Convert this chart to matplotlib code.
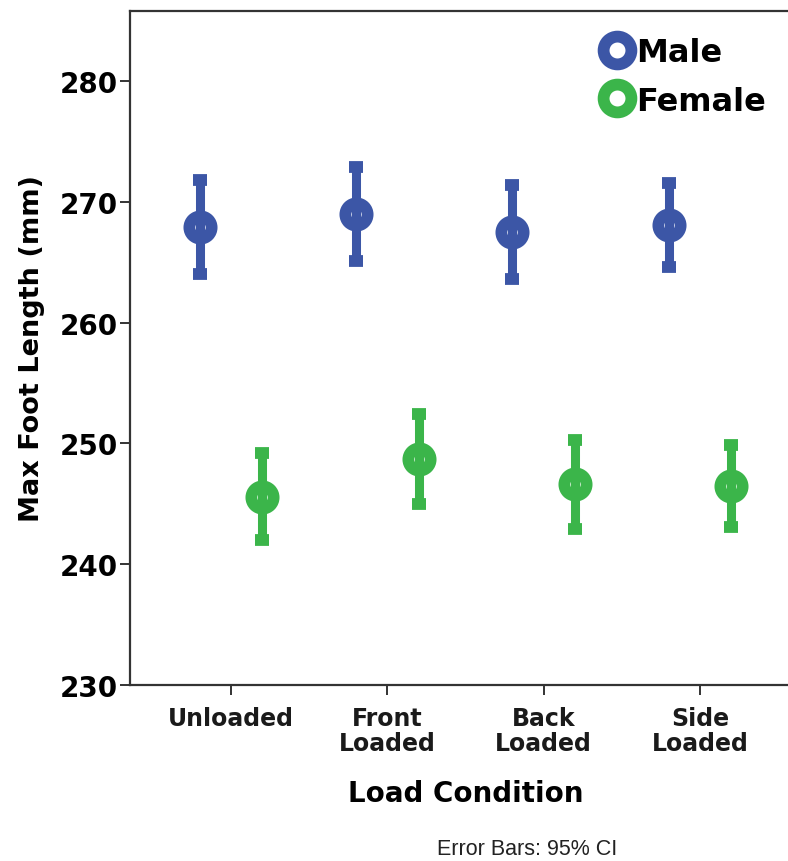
import matplotlib.pyplot as plt
from matplotlib.lines import Line2D
import numpy as np

# data
conditions = ['Unloaded', 'Front\nLoaded', 'Back\nLoaded', 'Side\nLoaded']
male_mean = [267.9, 269.0, 267.5, 268.1]
male_ci = [3.9, 3.9, 3.9, 3.5]
female_mean = [245.6, 248.7, 246.6, 246.5]
female_ci = [3.6, 3.7, 3.7, 3.4]

blue = '#3c56a6'
green = '#3bb54a'

fig = plt.figure(figsize=(7.88, 8.62), dpi=100)
ax = fig.add_axes([130 / 788, 176 / 862, 671 / 788, 674 / 862])

x = np.arange(len(conditions))
style = dict(fmt='o', ms=16, mfc='none', mew=8.5, elinewidth=6.5,
             capsize=5, capthick=8.5)
ax.errorbar(x - 0.2, male_mean, yerr=male_ci, color=blue, mec=blue, **style)
ax.errorbar(x + 0.2, female_mean, yerr=female_ci, color=green, mec=green, **style)

ax.set_xlim(-0.646, 3.646)
ax.set_ylim(230, 285.8)
ax.set_yticks([230, 240, 250, 260, 270, 280])
ax.set_xticks(x)
ax.set_xticklabels(conditions, fontsize=17, fontweight='bold', linespacing=1.08,
                   color='#1a1a1a')
for t in ax.get_yticklabels():
    t.set_fontsize(20)
    t.set_fontweight('bold')

for s in ['left', 'bottom', 'top']:
    ax.spines[s].set_linewidth(1.6)
    ax.spines[s].set_color('#333333')
ax.spines['right'].set_visible(False)
ax.tick_params(axis='both', length=7, width=1.4, color='#333333')
ax.tick_params(axis='x', pad=8)
ax.tick_params(axis='y', pad=2)

ax.set_xlabel('Load Condition', fontsize=20, fontweight='bold', labelpad=17)
ax.set_ylabel('Max Foot Length (mm)', fontsize=19.5, fontweight='bold', labelpad=10)

handles = [Line2D([], [], ls='none', marker='o', ms=20, mfc='none', mew=8.5, mec=blue),
           Line2D([], [], ls='none', marker='o', ms=20, mfc='none', mew=8.5, mec=green)]
ax.legend(handles, ['Male', 'Female'], loc='upper right', bbox_to_anchor=(0.972, 0.985),
          frameon=False, prop={'size': 23, 'weight': 'bold'},
          handletextpad=0.0, labelspacing=0.55, handlelength=1.2, borderaxespad=0.1)

fig.text(527 / 788, 2 / 862, 'Error Bars: 95% CI', fontsize=15.5,
         family='Liberation Sans', ha='center', va='bottom', color='#222222')

fig.savefig('out.png', dpi=100)
